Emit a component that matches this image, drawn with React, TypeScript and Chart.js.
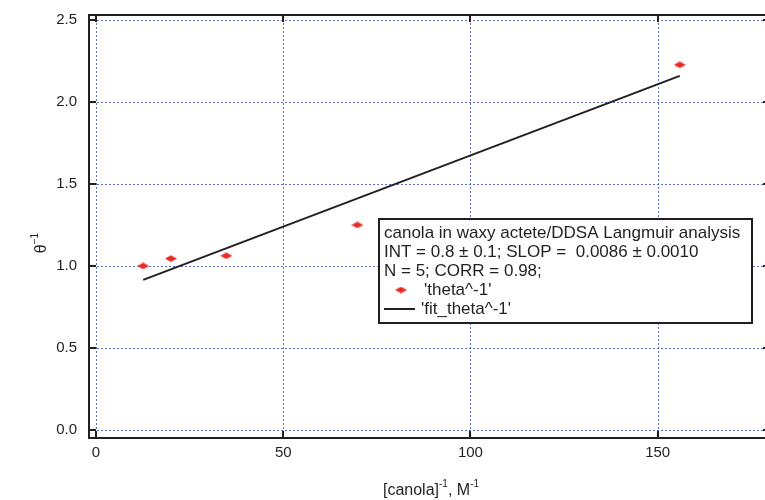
import React, { useEffect, useRef } from "react";
import { Chart, registerables } from "chart.js";

Chart.register(...registerables);

// ---- data ----
const pointX = [12.6, 20.0, 34.8, 69.8, 155.9];
const pointY = [1.0, 1.045, 1.062, 1.25, 2.226];
const fitX = [12.6, 155.9];
const fitY = [0.915, 2.159];
const xTicks = [0, 50, 100, 150];
const yTicks = [0, 0.5, 1.0, 1.5, 2.0, 2.5];
const legendLines = [
  "canola in waxy actete/DDSA Langmuir analysis",
  "INT = 0.8 \u00b1 0.1; SLOP =  0.0086 \u00b1 0.0010",
  "N = 5; CORR = 0.98;",
];
const seriesNames = ["'theta^-1'", "'fit_theta^-1'"];

const FONT = "'Liberation Sans', Arial, sans-serif";
const NARROW = "'Liberation Sans Narrow', 'Arial Narrow', 'Liberation Sans', sans-serif";
const INK = "#231f20";
const RED = "#ec2a24";
const GRID = "#5e6fca";

function makeDiamond(): HTMLCanvasElement {
  const c = document.createElement("canvas");
  c.width = 12;
  c.height = 7;
  const g = c.getContext("2d")!;
  g.fillStyle = RED;
  g.beginPath();
  g.moveTo(0, 3.5);
  g.lineTo(6, 0.2);
  g.lineTo(12, 3.5);
  g.lineTo(6, 6.8);
  g.closePath();
  g.fill();
  return c;
}

function zeroPad(s: any) {
  s.paddingTop = 0;
  s.paddingBottom = 0;
  s.paddingLeft = 0;
  s.paddingRight = 0;
}

export default function App() {
  const ref = useRef<HTMLCanvasElement | null>(null);

  useEffect(() => {
    document.body.style.margin = "0";
    const diamond = makeDiamond();

    const framePlugin = {
      id: "frame",
      beforeDatasetsDraw(chart: any) {
        const { ctx, chartArea: a, scales } = chart;
        const x = scales.x;
        const y = scales.y;
        ctx.save();
        ctx.strokeStyle = GRID;
        ctx.lineWidth = 1;
        ctx.setLineDash([2, 2]);
        for (const v of xTicks) {
          const px = Math.round(x.getPixelForValue(v)) + 0.5;
          ctx.beginPath();
          ctx.moveTo(px, a.top);
          ctx.lineTo(px, a.bottom);
          ctx.stroke();
        }
        for (const v of yTicks) {
          const py = Math.round(y.getPixelForValue(v)) + 0.5;
          ctx.beginPath();
          ctx.moveTo(a.left, py);
          ctx.lineTo(a.right, py);
          ctx.stroke();
        }
        ctx.restore();
      },
      afterDatasetsDraw(chart: any) {
        const { ctx, chartArea: a, scales } = chart;
        const x = scales.x;
        const y = scales.y;
        ctx.save();
        ctx.setLineDash([]);
        ctx.strokeStyle = INK;
        ctx.lineWidth = 2;
        ctx.strokeRect(a.left, a.top, a.right - a.left, a.bottom - a.top);
        const TL = 7;
        ctx.beginPath();
        for (const v of xTicks) {
          const px = Math.round(x.getPixelForValue(v));
          ctx.moveTo(px, a.bottom);
          ctx.lineTo(px, a.bottom - TL);
          ctx.moveTo(px, a.top);
          ctx.lineTo(px, a.top + TL);
        }
        for (const v of yTicks) {
          const py = Math.round(y.getPixelForValue(v));
          ctx.moveTo(a.left, py);
          ctx.lineTo(a.left + TL, py);
          ctx.moveTo(a.right, py);
          ctx.lineTo(a.right - TL, py);
        }
        ctx.stroke();

        // legend box
        const bx = 379, by = 219, bw = 373, bh = 104;
        ctx.fillStyle = "#ffffff";
        ctx.fillRect(bx, by, bw, bh);
        ctx.lineWidth = 2;
        ctx.strokeStyle = INK;
        ctx.strokeRect(bx, by, bw, bh);
        ctx.fillStyle = INK;
        ctx.font = `17px ${FONT}`;
        ctx.textBaseline = "middle";
        ctx.textAlign = "left";
        const ly = [233, 252, 271, 290, 309];
        legendLines.forEach((t, i) => ctx.fillText(t, 384, ly[i]));
        ctx.drawImage(diamond, 395, ly[3] - 3.5);
        ctx.fillText(seriesNames[0], 424, ly[3]);
        ctx.beginPath();
        ctx.moveTo(384, ly[4]);
        ctx.lineTo(415, ly[4]);
        ctx.stroke();
        ctx.fillText(seriesNames[1], 421, ly[4]);

        // y title: θ^-1 rotated
        ctx.save();
        ctx.translate(46, 243);
        ctx.rotate(-Math.PI / 2);
        ctx.textBaseline = "alphabetic";
        ctx.font = `16px ${FONT}`;
        const thW = ctx.measureText("\u03b8").width;
        ctx.font = `10px ${FONT}`;
        const supW = ctx.measureText("\u22121").width;
        const total = thW + supW;
        ctx.font = `16px ${FONT}`;
        ctx.fillText("\u03b8", -total / 2, 0);
        ctx.font = `10px ${FONT}`;
        ctx.fillText("\u22121", -total / 2 + thW, -8);
        ctx.restore();

        // x title
        const parts: [string, boolean][] = [
          ["[canola]", false],
          ["-1", true],
          [", M", false],
          ["-1", true],
        ];
        let w = 0;
        for (const [t, sup] of parts) {
          ctx.font = sup ? `10px ${NARROW}` : `16px ${NARROW}`;
          w += ctx.measureText(t).width;
        }
        let cx = 431 - w / 2;
        ctx.textBaseline = "alphabetic";
        for (const [t, sup] of parts) {
          ctx.font = sup ? `10px ${NARROW}` : `16px ${NARROW}`;
          ctx.fillText(t, cx, sup ? 487 : 495);
          cx += ctx.measureText(t).width;
        }
        ctx.restore();
      },
    };

    const chart = new Chart(ref.current!, {
      type: "scatter",
      data: {
        datasets: [
          {
            label: seriesNames[0],
            data: pointX.map((v, i) => ({ x: v, y: pointY[i] })),
            pointStyle: diamond as any,
            pointRadius: 6,
            backgroundColor: RED,
            borderColor: RED,
            showLine: false,
          },
          {
            label: seriesNames[1],
            data: fitX.map((v, i) => ({ x: v, y: fitY[i] })),
            showLine: true,
            pointRadius: 0,
            borderColor: INK,
            borderWidth: 2,
          },
        ],
      },
      options: {
        animation: false,
        responsive: false,
        events: [],
        layout: { padding: { top: 15, right: 3, left: 0, bottom: 0 } },
        plugins: {
          legend: { display: false },
          tooltip: { enabled: false },
        },
        scales: {
          x: {
            type: "linear",
            min: -1.87,
            max: 180,
            grid: { display: false, drawTicks: false },
            border: { display: false },
            afterBuildTicks: (s: any) => {
              s.ticks = xTicks.map((v) => ({ value: v }));
            },
            afterFit: (s: any) => {
              s.height = 62;
              zeroPad(s);
            },
            ticks: {
              color: INK,
              font: { family: FONT, size: 15 },
              padding: 6,
              maxRotation: 0,
              callback: (v: any) => String(v),
            },
          },
          y: {
            type: "linear",
            min: -0.049,
            max: 2.53,
            grid: { display: false, drawTicks: false },
            border: { display: false },
            afterBuildTicks: (s: any) => {
              s.ticks = yTicks.map((v) => ({ value: v }));
            },
            afterFit: (s: any) => {
              s.width = 89;
              zeroPad(s);
            },
            ticks: {
              color: INK,
              font: { family: FONT, size: 15 },
              padding: 12,
              callback: (v: any) => Number(v).toFixed(1),
            },
          },
        },
      },
      plugins: [framePlugin],
    });
    return () => chart.destroy();
  }, []);

  return (
    <div style={{ width: 765, height: 500, overflow: "hidden", background: "#fff" }}>
      <canvas ref={ref} width={777} height={500} style={{ display: "block" }} />
    </div>
  );
}
